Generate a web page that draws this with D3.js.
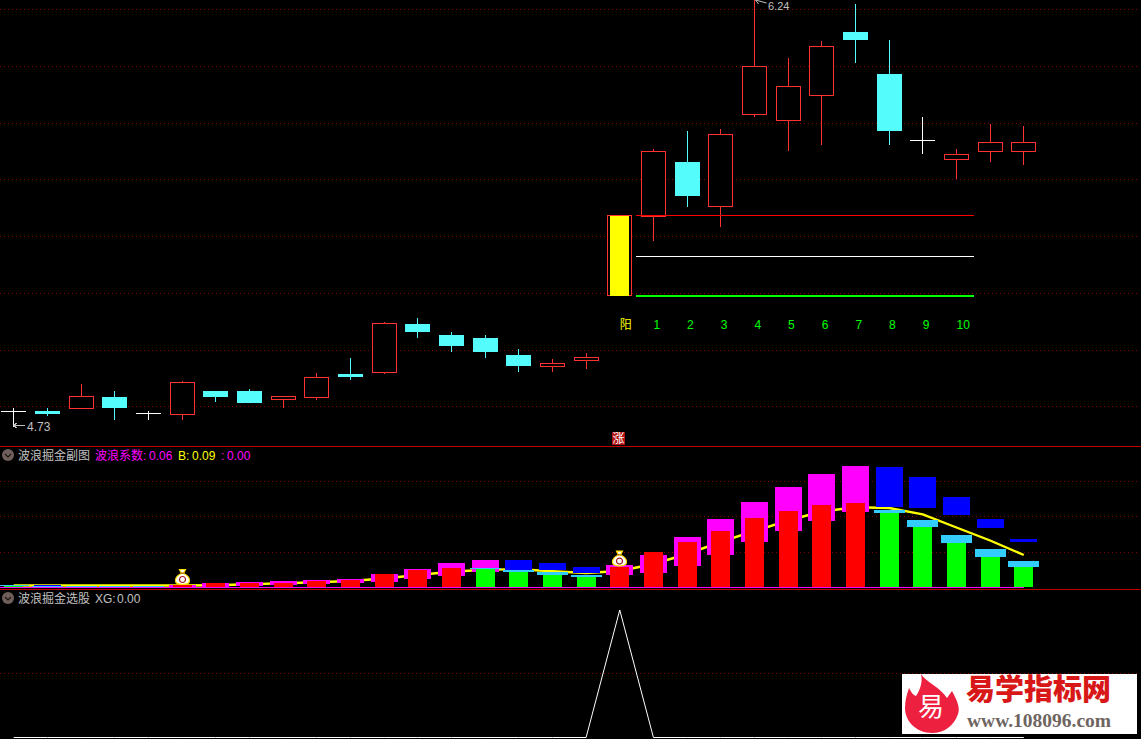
<!DOCTYPE html>
<html>
<head>
<meta charset="utf-8">
<script src="https://cdn.jsdelivr.net/npm/d3@7"></script>
<style>
  html, body { margin: 0; padding: 0; background: #000; overflow: hidden; }
  svg { display: block; }
  text { font-family: "Liberation Sans", "Noto Sans CJK SC", sans-serif; font-size: 12px; }
</style>
</head>
<body>
<div id="chart"></div>
<script>
// ---- candles (index 18 is the yellow signal bar) ----
const opens = [4.785, 4.786, 4.794, 4.836, 4.775, 4.773, 4.857, 4.857, 4.823, 4.833, 4.917, 4.921, 5.093, 5.054, 5.043, 4.983, 4.942, 4.963, 5.191, 5.472, 5.663, 5.509, 5.830, 5.809, 5.900, 6.121, 5.973, 5.740, 5.671, 5.699, 5.699];
const closes = [4.785, 4.776, 4.835, 4.797, 4.775, 4.884, 4.836, 4.815, 4.835, 4.905, 4.906, 5.092, 5.065, 5.015, 4.994, 4.945, 4.954, 4.972, 5.473, 5.701, 5.543, 5.761, 6.000, 5.930, 6.071, 6.093, 5.772, 5.740, 5.690, 5.732, 5.732];
const highs = [4.797, 4.797, 4.881, 4.857, 4.786, 4.892, 4.857, 4.864, 4.835, 4.920, 4.973, 5.099, 5.114, 5.065, 5.054, 5.005, 4.968, 4.991, 5.473, 5.709, 5.772, 5.779, 6.240, 6.029, 6.089, 6.219, 6.093, 5.822, 5.709, 5.797, 5.790];
const lows = [4.730, 4.766, 4.794, 4.755, 4.755, 4.755, 4.816, 4.815, 4.797, 4.825, 4.895, 4.917, 5.043, 4.994, 4.973, 4.924, 4.924, 4.934, 5.191, 5.386, 5.505, 5.434, 5.822, 5.702, 5.723, 6.012, 5.723, 5.691, 5.603, 5.663, 5.653];
const priceTicks = [6.2, 6.0, 5.8, 5.6, 5.4, 5.2, 5.0, 4.8];
const levels = [5.473, 5.330, 5.191];
const dayLabels = ["阳", "1", "2", "3", "4", "5", "6", "7", "8", "9", "10"];

// ---- 波浪掘金副图 ----
const barTop = [0.0042, 0.0014, 0.0014, 0.0014, 0.0014, 0.0070, 0.0127, 0.0127, 0.0127, 0.0183, 0.0211, 0.0380, 0.0493, 0.0549, 0.0521, 0.0437, 0.0352, 0.0296, 0.0577, 0.1, 0.1282, 0.1592, 0.1958, 0.2155, 0.2324, 0.2380, 0.2099, 0.1704, 0.1254, 0.0859, 0.0577];
const capTop = [0.0070, 0.0042, 0.0042, 0.0042, 0.0042, null, null, null, null, null, null, null, null, null, 0.0549, 0.0493, 0.0437, 0.0352, null, null, null, null, null, null, null, null, 0.2183, 0.1901, 0.1479, 0.1085, 0.0746];
const waveTop = [0.0071, 0.0070, null, null, null, 0.0070, 0.0127, 0.0155, 0.0183, 0.0211, 0.0239, 0.0380, 0.0521, 0.0690, 0.0775, 0.0775, 0.0690, 0.0577, 0.0634, 0.0915, 0.1423, 0.1930, 0.2408, 0.2831, 0.3197, 0.3423, 0.3394, 0.3113, 0.2549, 0.1930, 0.1366];
const waveBottom = [0.0071, 0.0042, null, null, null, 0.0014, 0.0014, 0.0042, 0.0070, 0.0099, 0.0127, 0.0155, 0.0239, 0.0324, 0.0437, 0.0493, 0.0493, 0.0408, 0.0352, 0.0408, 0.0606, 0.0915, 0.1282, 0.1592, 0.1873, 0.2127, 0.2268, 0.2239, 0.2042, 0.1676, 0.1282];
const coefB = [0.0056, 0.0056, 0.0056, 0.0056, 0.0056, 0.0056, 0.0065, 0.0090, 0.0121, 0.0149, 0.0183, 0.0254, 0.0352, 0.0442, 0.0499, 0.0513, 0.0456, 0.0408, 0.0465, 0.0662, 0.0944, 0.1282, 0.1592, 0.1887, 0.2141, 0.2259, 0.2239, 0.2062, 0.1690, 0.1324, 0.0915];
const waveTicks = [0.1, 0.2, 0.3];
const bagDays = [5, 18];
const bagValues = [0.0310, 0.0830];

// ---- 波浪掘金选股 ----
const xgValues = [0, 0, 0, 0, 0, 0, 0, 0, 0, 0, 0, 0, 0, 0, 0, 0, 0, 0, 1, 0, 0, 0, 0, 0, 0, 0, 0, 0, 0, 0, 0];
const xgTicks = [0.5];

const WIDTH = 1141, HEIGHT = 739;
const RED = "#ff3232", CYAN = "#54fcfc", GRID = "#8c0000", DIVIDER = "#c00000", GREY = "#c0c0c0";
const days = d3.range(opens.length);

const svg = d3.select("#chart").append("svg").attr("width", WIDTH).attr("height", HEIGHT);

const x = d3.scaleLinear().domain([0, 30]).range([13.7, 1023.8]);
const y = d3.scaleLinear().domain([4.8, 6.2]).range([406.8, 9.5]);
const yWave = d3.scaleLinear().domain([0, 0.3]).range([587.5, 481]);
const yXg = d3.scaleLinear().domain([0, 1]).range([737.5, 610]);

const cx = (i) => Math.floor(x(i)) + 0.5;
const snap = (v) => Math.floor(v) + 0.5;

function drawGrid(scale, ticks) {
  const g = svg.append("g").call(d3.axisRight(scale).tickValues(ticks).tickSize(1139).tickFormat("").offset(0));
  g.select(".domain").remove();
  // keep the dotted rows on whole pixels
  g.selectAll(".tick").attr("transform", (d) => `translate(0,${snap(scale(d))})`);
  g.selectAll("line")
    .attr("stroke", GRID)
    .attr("stroke-dasharray", "1 3");
}
drawGrid(y, priceTicks);
drawGrid(yWave, waveTicks);
drawGrid(yXg, xgTicks);

// panel dividers
svg.selectAll(".divider")
  .data([446.5, 589.5])
  .enter()
  .append("line")
  .attr("x1", 0).attr("x2", WIDTH)
  .attr("y1", (d) => d).attr("y2", (d) => d)
  .attr("stroke", DIVIDER);

// Candles
const candleColor = (i) => (opens[i] === closes[i] ? "#fff" : closes[i] > opens[i] ? RED : CYAN);
const candles = svg.append("g").attr("shape-rendering", "crispEdges");

candles.selectAll(".wick")
  .data(days.filter((i) => i !== 18))
  .enter()
  .append("line")
  .attr("x1", cx).attr("x2", cx)
  .attr("y1", (i) => y(highs[i]))
  .attr("y2", (i) => y(lows[i]))
  .attr("stroke", candleColor);

candles.selectAll(".body")
  .data(days.filter((i) => opens[i] !== closes[i] && i !== 18))
  .enter()
  .append("rect")
  .attr("x", (i) => cx(i) - (closes[i] > opens[i] ? 12 : 12.5))
  .attr("width", (i) => (closes[i] > opens[i] ? 24 : 25))
  .attr("y", (i) => snap(y(Math.max(opens[i], closes[i]))))
  .attr("height", (i) => Math.round(y(Math.min(opens[i], closes[i])) - y(Math.max(opens[i], closes[i]))))
  .attr("fill", (i) => (closes[i] > opens[i] ? "#000" : CYAN))
  .attr("stroke", (i) => (closes[i] > opens[i] ? RED : "none"));

candles.selectAll(".doji")
  .data(days.filter((i) => opens[i] === closes[i]))
  .enter()
  .append("line")
  .attr("x1", (i) => cx(i) - 12.5).attr("x2", (i) => cx(i) + 12)
  .attr("y1", (i) => snap(y(opens[i]))).attr("y2", (i) => snap(y(opens[i])))
  .attr("stroke", "#fff");

// yellow signal bar
candles.append("rect")
  .attr("x", cx(18) - 12).attr("width", 24)
  .attr("y", snap(y(closes[18]))).attr("height", Math.round(y(opens[18]) - y(closes[18])))
  .attr("fill", "#000").attr("stroke", RED);
candles.append("rect")
  .attr("x", cx(18) - 9.5).attr("width", 19)
  .attr("y", snap(y(closes[18]))).attr("height", Math.round(y(opens[18]) - y(closes[18])))
  .attr("fill", "#ffff00");

// level lines after the signal bar
svg.selectAll(".level")
  .data(levels)
  .enter()
  .append("line")
  .attr("shape-rendering", "crispEdges")
  .attr("x1", x(18.5) - 1).attr("x2", x(28.5) + 1)
  .attr("y1", (d) => snap(y(d))).attr("y2", (d) => snap(y(d)))
  .attr("stroke", (d, i) => ["#ff0000", "#fff", "#00ff00"][i])
  .attr("stroke-width", (d, i) => (i === 2 ? 2 : 1));

// day counter row
svg.selectAll(".day")
  .data(dayLabels)
  .enter()
  .append("text")
  .attr("x", (d, i) => x(18 + i))
  .attr("y", 329)
  .attr("fill", (d, i) => (i === 0 ? "#ffff00" : "#00ff00"))
  .text((d) => d);

// high / low price notes
svg.append("path")
  .attr("d", `M${cx(0)},425.5L25,425.5M${cx(0)},425.5l4,-3M${cx(0)},425.5l4,3`)
  .attr("fill", "none").attr("stroke", GREY).attr("shape-rendering", "crispEdges");
svg.append("text").attr("x", 27).attr("y", 431).attr("fill", GREY).text(lows[0].toFixed(2));
svg.append("path")
  .attr("d", `M${cx(22) + 1},0L${cx(22) + 12},3M${cx(22) + 1},0l3,-3M${cx(22) + 1},0l3,4`)
  .attr("fill", "none").attr("stroke", GREY);
svg.append("text").attr("x", 768).attr("y", 10).attr("fill", GREY).style("font-size", "11px").text(highs[22].toFixed(2));

// 涨 tag
svg.append("rect").attr("x", 612).attr("y", 432).attr("width", 13).attr("height", 13).attr("fill", "#b01010");
svg.append("text").attr("x", 612.5).attr("y", 443).attr("fill", "#fff").text("涨");

// Wave panel
const lineB = d3.line().x((d, i) => x(i)).y((d) => yWave(d));
svg.append("path")
  .datum(coefB)
  .attr("d", lineB)
  .attr("fill", "none")
  .attr("stroke", "#ffff00")
  .attr("stroke-width", 2.4);

const wave = svg.append("g").attr("shape-rendering", "crispEdges");
const waveColor = (i) =>
  waveTop[i - 1] != null && waveTop[i] <= waveTop[i - 1] ? "#0000ff" : "#ff00ff";

wave.selectAll(".box")
  .data(days.filter((i) => waveTop[i] != null))
  .enter()
  .append("rect")
  .attr("x", (i) => cx(i) - 13.5)
  .attr("width", 27)
  .attr("y", (i) => Math.round(yWave(waveTop[i])))
  .attr("height", (i) => Math.round(yWave(waveBottom[i])) - Math.round(yWave(waveTop[i])))
  .attr("fill", waveColor);

wave.selectAll(".cap")
  .data(days.filter((i) => capTop[i] != null))
  .enter()
  .append("rect")
  .attr("x", (i) => cx(i) - 15.5)
  .attr("width", 31)
  .attr("y", (i) => Math.round(yWave(capTop[i])))
  .attr("height", (i) => Math.round(yWave(barTop[i])) - Math.round(yWave(capTop[i])))
  .attr("fill", "#33ccff");

wave.selectAll(".bar")
  .data(days)
  .enter()
  .append("rect")
  .attr("x", (i) => cx(i) - 9.5)
  .attr("width", 19)
  .attr("y", (i) => Math.round(yWave(barTop[i])))
  .attr("height", (i) => 587 - Math.round(yWave(barTop[i])))
  .attr("fill", (i) => (capTop[i] != null ? "#00ff00" : "#ff0000"));

svg.append("line")
  .attr("x1", 0).attr("x2", x(30))
  .attr("y1", 587.5).attr("y2", 587.5)
  .attr("stroke", "#ff00ff");

// money bags
bagDays.forEach((day, k) => {
  const g = svg.append("g").attr("transform", `translate(${cx(day)},${yWave(bagValues[k])})`);
  g.append("path")
    .attr("d", "M-3,-7L3,-7L1,-3C6,-1 7,2 7,4C7,7 4,8 0,8C-4,8 -7,7 -7,4C-7,2 -6,-1 -1,-3Z")
    .attr("fill", "#fff").attr("stroke", "#ffe000").attr("stroke-width", 1.2);
  g.append("rect").attr("x", -2).attr("y", -4).attr("width", 4).attr("height", 1.5).attr("fill", "#c08000");
  g.append("circle").attr("cx", 0).attr("cy", 3).attr("r", 3).attr("fill", "none").attr("stroke", "#a02020").attr("stroke-width", 1.2);
});

// XG panel
svg.append("path")
  .datum(xgValues)
  .attr("d", d3.line().x((d, i) => x(i)).y((d) => yXg(d)))
  .attr("fill", "none")
  .attr("stroke", "#fff");

// panel titles
function drawTitle(cy, parts) {
  svg.append("circle").attr("cx", 8).attr("cy", cy).attr("r", 6).attr("fill", "#6f5f5a");
  svg.append("path")
    .attr("d", `M5,${cy - 1}L8,${cy + 2}L11,${cy - 1}`)
    .attr("fill", "none").attr("stroke", "#1c1412").attr("stroke-width", 1.2);
  parts.forEach(([label, left, color]) => {
    svg.append("text").attr("x", left).attr("y", cy + 4.5).attr("fill", color).text(label);
  });
}
drawTitle(455, [
  ["波浪掘金副图", 18, GREY],
  ["波浪系数:", 95, "#ff00ff"],
  ["0.06", 149, "#ff00ff"],
  ["B:", 178, "#ffff00"],
  ["0.09", 192, "#ffff00"],
  [":", 221, "#ff00ff"],
  ["0.00", 227, "#ff00ff"],
]);
drawTitle(598, [
  ["波浪掘金选股", 18, GREY],
  ["XG:", 95, GREY],
  ["0.00", 117, GREY],
]);

// watermark logo
const logo = svg.append("g");
logo.append("rect").attr("x", 902).attr("y", 674).attr("width", 235).attr("height", 60).attr("fill", "#fff");
logo.append("path")
  .attr("d", "M921,674C926,682 941,688 947,698L952,691C958,702 960,708 958,714C954,726 944,733 932,733C917,733 905,722 905,708C905,700 907,694 909,688C911,692 913,695 916,696C920,690 923,682 921,674Z")
  .attr("fill", "#ee2040");
logo.append("text")
  .attr("x", 931).attr("y", 716)
  .attr("text-anchor", "middle")
  .attr("fill", "#fff")
  .style("font-size", "26px")
  .text("易");
logo.append("text")
  .attr("x", 966).attr("y", 700)
  .attr("fill", "#d81818")
  .style("font-family", "'Noto Sans CJK SC'")
  .style("font-size", "29px")
  .style("font-weight", 900)
  .text("易学指标网");
logo.append("text")
  .attr("x", 967).attr("y", 727)
  .attr("fill", "#6e6460")
  .style("font-family", "'Liberation Serif'")
  .style("font-size", "19.5px")
  .style("font-weight", 700)
  .text("www.108096.com");
</script>
</body>
</html>
